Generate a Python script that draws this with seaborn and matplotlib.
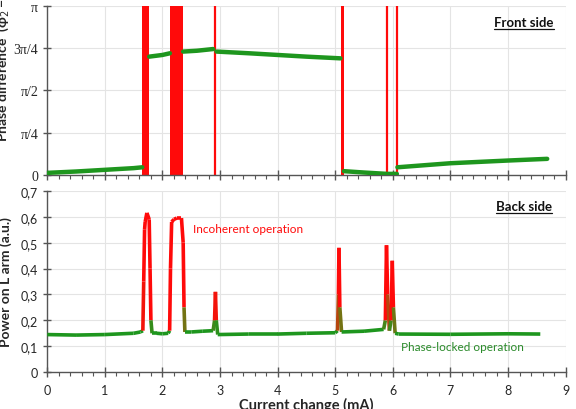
import numpy as np
import pandas as pd
import matplotlib
matplotlib.use("Agg")
import matplotlib.pyplot as plt
import seaborn as sns
from matplotlib.collections import LineCollection
from matplotlib.colors import LinearSegmentedColormap
from matplotlib.lines import Line2D

# ---- data ----
# front side: phase difference, in units of pi, locked segments
front_x = [[0, 0.5, 1.0, 1.5, 1.65],
           [1.77, 2.0, 2.13],
           [2.36, 2.6, 2.88],
           [2.94, 3.5, 4.0, 4.5, 5.09],
           [5.15, 5.5, 5.9, 6.07],
           [6.08, 6.5, 7.0, 7.5, 8.0, 8.68]]
front_y = [[0.012, 0.02, 0.03, 0.04, 0.045],
           [0.70, 0.71, 0.72],
           [0.73, 0.735, 0.745],
           [0.73, 0.72, 0.71, 0.70, 0.69],
           [0.022, 0.014, 0.006, 0.006],
           [0.045, 0.056, 0.069, 0.077, 0.085, 0.095]]
# incoherent regions (phase undefined) - wide bands and thin lines
band_start = [1.65, 2.13, 5.10]
band_end = [1.76, 2.36, 5.15]
thin_x = [2.92, 5.90, 6.07]

# back side: power on L arm (a.u.)
back_x = [0, 0.5, 1.0, 1.5, 1.62, 1.66, 1.675, 1.69, 1.70, 1.73, 1.77, 1.785, 1.80, 1.82,
          1.9, 2.0, 2.1, 2.125, 2.14, 2.16, 2.2, 2.25, 2.3, 2.33, 2.36, 2.375, 2.39,
          2.5, 2.7, 2.88, 2.905, 2.92, 2.935, 2.96, 3.5, 4.0, 4.5, 5.0, 5.04,
          5.055, 5.065, 5.08, 5.11, 5.5, 5.84, 5.87, 5.89, 5.91, 5.94, 5.97,
          5.99, 6.01, 6.04, 6.1, 7.0, 8.0, 8.56]
back_y = [0.145, 0.143, 0.145, 0.15, 0.155, 0.16, 0.35, 0.55, 0.58, 0.615, 0.59, 0.40, 0.20,
          0.15, 0.15, 0.148, 0.15, 0.16, 0.40, 0.58, 0.59, 0.595, 0.595, 0.595, 0.50,
          0.25, 0.155, 0.155, 0.158, 0.16, 0.20, 0.31, 0.20, 0.145, 0.147, 0.147,
          0.15, 0.152, 0.16, 0.30, 0.48, 0.25, 0.155, 0.158, 0.165, 0.20, 0.49, 0.30,
          0.16, 0.20, 0.43, 0.25, 0.15, 0.147, 0.146, 0.148, 0.147]

front_ticks = [0, 0.25, 0.5, 0.75, 1.0]
front_labels = ["0", "π/4", "π/2", "3π/4", "π"]
back_ticks = [0, 0.1, 0.2, 0.3, 0.4, 0.5, 0.6, 0.7]
back_labels = ["0", "0,1", "0,2", "0,3", "0,4", "0,5", "0,6", "0,7"]

GREEN = "#1e961e"
RED = "#ff0a0a"

sns.set_style("ticks")
plt.rcParams["font.family"] = ["Lato", "DejaVu Sans"]

fig = plt.figure(figsize=(5.76, 4.10), dpi=100)
ax1 = fig.add_axes([0.082, 0.571, 0.900, 0.412])
ax2 = fig.add_axes([0.082, 0.090, 0.900, 0.442])

for ax in (ax1, ax2):
    ax.set_xlim(0, 9)
    ax.set_xticks(np.arange(0, 10, 1))
    ax.set_xticks(np.arange(0, 9.01, 0.2), minor=True)
    ax.grid(True, which="major", color="#e4e4e4", lw=0.8)
    ax.set_axisbelow(True)
    for s in ("top", "right"):
        ax.spines[s].set_visible(False)
    for s in ("left", "bottom"):
        ax.spines[s].set_color("#555555")
        ax.spines[s].set_linewidth(1.0)
    ax.tick_params(axis="x", which="major", direction="inout", length=7, width=1, color="#555555",
                   labelsize=9, pad=5)
    ax.tick_params(axis="x", which="minor", direction="out", length=3, width=0.8, color="#555555")
    ax.tick_params(axis="y", which="major", direction="inout", length=6, width=1, color="#555555",
                   labelsize=9)

# ---- front side ----
for s, e in zip(band_start, band_end):
    ax1.axvspan(s, e, color=RED, lw=0, zorder=2)
ax1.vlines(thin_x, 0, np.pi, color=RED, lw=1.6, zorder=2)
seg_df = pd.concat([pd.DataFrame({"x": xs, "y": np.array(ys) * np.pi, "seg": i})
                    for i, (xs, ys) in enumerate(zip(front_x, front_y))])
sns.lineplot(data=seg_df, x="x", y="y", units="seg", estimator=None, color=GREEN,
             lw=3.2, ax=ax1, zorder=3)
ax1.set_ylim(0, np.pi)
ax1.set_yticks(np.array(front_ticks) * np.pi)
ax1.set_yticklabels(front_labels, fontfamily="Liberation Serif", fontsize=10)
ax1.tick_params(axis="x", labelbottom=False)
ax1.set_xlabel("")
ax1.set_ylabel("Phase difference  (φ$_2$ − φ$_1$)", fontsize=10, fontweight="bold")
ax1.yaxis.set_label_coords(-0.07, 0.70)

# ---- back side ----
pts = np.column_stack([back_x, back_y]).reshape(-1, 1, 2)
segs = np.concatenate([pts[:-1], pts[1:]], axis=1)
vals = (np.array(back_y[:-1]) + np.array(back_y[1:])) / 2
cmap = LinearSegmentedColormap.from_list("gr", [GREEN, "#8a6a10", RED])
lc = LineCollection(segs, cmap=cmap, norm=plt.Normalize(0.165, 0.26), lw=2.6, zorder=3)
lc.set_array(vals)
ax2.add_collection(lc)
ax2.set_ylim(0, 0.7)
ax2.set_yticks(back_ticks)
ax2.set_yticklabels(back_labels)
ax2.set_xlabel("Current change (mA)", fontsize=10.5, fontweight="bold", labelpad=1)
ax2.set_ylabel("Power on L arm (a.u.)", fontsize=10, fontweight="bold", labelpad=6)

ax2.text(2.53, 0.553, "Incoherent operation", color=RED, fontsize=8.5, va="center", ha="left")
ax2.text(6.14, 0.097, "Phase-locked operation", color="#2a8a2a", fontsize=8.5, va="center", ha="left")

t1 = ax1.text(0.92, 0.905, "Front side", transform=ax1.transAxes, fontsize=9.5,
              fontweight="bold", ha="center", va="center", color="#111111")
t2 = ax2.text(0.92, 0.915, "Back side", transform=ax2.transAxes, fontsize=9.5,
              fontweight="bold", ha="center", va="center", color="#111111")

# underline the two panel titles
fig.canvas.draw()
inv = fig.transFigure.inverted()
for t in (t1, t2):
    bb = t.get_window_extent()
    (x0, y0), (x1, _) = inv.transform([[bb.x0, bb.y0 - 0.5], [bb.x1, bb.y0]])
    fig.add_artist(Line2D([x0, x1], [y0, y0], color="#111111", lw=0.9))

fig.savefig("out.png", dpi=100)
